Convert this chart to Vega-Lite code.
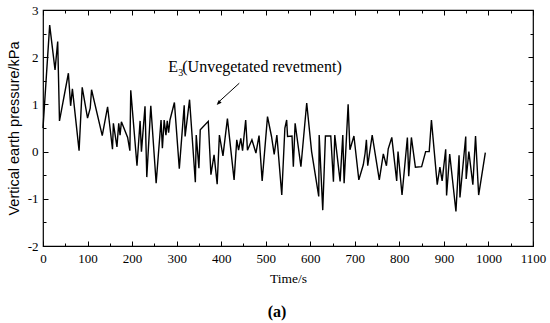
{
  "$schema": "https://vega.github.io/schema/vega-lite/v6.json",
  "width": 490,
  "height": 236,
  "autosize": {"type": "none"},
  "padding": {"left": 43, "top": 10, "right": 17, "bottom": 77},
  "background": "white",
  "config": {
    "view": {"stroke": "black", "strokeWidth": 1.2},
    "axis": {"grid": false, "domain": false, "tickColor": "black", "tickWidth": 1, "labelColor": "black", "titleColor": "black", "labelFont": "Liberation Serif", "labelFontSize": 13, "titleFont": "Liberation Serif", "titleFontSize": 13.5, "titleFontWeight": "normal"}
  },
  "title": {"text": "(a)", "orient": "bottom", "font": "Liberation Serif", "fontSize": 16, "fontWeight": "bold", "color": "black", "offset": 19, "dx": -11},
  "datasets": {
    "series": [
      {"t": 0, "p": 0.5}, {"t": 15, "p": 2.68}, {"t": 27, "p": 1.73}, {"t": 33, "p": 2.33}, {"t": 37, "p": 0.65},
      {"t": 57, "p": 1.66}, {"t": 62, "p": 0.97}, {"t": 66, "p": 1.33}, {"t": 81, "p": 0.02}, {"t": 88, "p": 1.36},
      {"t": 100, "p": 0.71}, {"t": 106, "p": 0.92}, {"t": 109, "p": 1.31}, {"t": 133, "p": 0.34}, {"t": 145, "p": 0.95},
      {"t": 156, "p": 0.05}, {"t": 158, "p": 0.6}, {"t": 166, "p": 0.1}, {"t": 170, "p": 0.6}, {"t": 173, "p": 0.35},
      {"t": 176, "p": 0.63}, {"t": 190, "p": 0.3}, {"t": 195, "p": 0.02}, {"t": 197, "p": 1.3}, {"t": 211, "p": -0.3},
      {"t": 218, "p": 0.65}, {"t": 221, "p": 0.0}, {"t": 229, "p": 0.96}, {"t": 233, "p": -0.54}, {"t": 242, "p": 0.97},
      {"t": 254, "p": -0.67}, {"t": 265, "p": 0.67}, {"t": 268, "p": 0.07}, {"t": 272, "p": 0.67}, {"t": 276, "p": 0.35},
      {"t": 279, "p": 0.65}, {"t": 282, "p": 0.4}, {"t": 285, "p": 0.67}, {"t": 295, "p": 1.04}, {"t": 306, "p": -0.36},
      {"t": 317, "p": 0.98}, {"t": 319, "p": 0.32}, {"t": 329, "p": 1.1}, {"t": 342, "p": -0.65}, {"t": 344, "p": 0.35},
      {"t": 350, "p": -0.35}, {"t": 353, "p": 0.46}, {"t": 371, "p": 0.64}, {"t": 377, "p": -0.49}, {"t": 384, "p": -0.07},
      {"t": 391, "p": -0.69}, {"t": 396, "p": 0.35}, {"t": 404, "p": -0.09}, {"t": 414, "p": 0.7}, {"t": 429, "p": -0.6},
      {"t": 435, "p": 0.25}, {"t": 439, "p": 0.03}, {"t": 444, "p": 0.28}, {"t": 448, "p": 0.02}, {"t": 455, "p": 0.67},
      {"t": 459, "p": 0.03}, {"t": 469, "p": 0.25}, {"t": 478, "p": -0.03}, {"t": 485, "p": 0.34}, {"t": 492, "p": -0.62},
      {"t": 504, "p": 0.74}, {"t": 513, "p": 0.32}, {"t": 519, "p": -0.06}, {"t": 525, "p": 0.35}, {"t": 536, "p": -0.92},
      {"t": 543, "p": 0.5}, {"t": 547, "p": 0.67}, {"t": 549, "p": 0.32}, {"t": 559, "p": 0.33}, {"t": 562, "p": -0.32},
      {"t": 566, "p": 0.6}, {"t": 579, "p": -0.32}, {"t": 592, "p": 1.03}, {"t": 603, "p": 0.0}, {"t": 619, "p": -0.95},
      {"t": 620, "p": 0.35}, {"t": 628, "p": -1.24}, {"t": 634, "p": 0.33}, {"t": 646, "p": 0.33}, {"t": 652, "p": -0.64},
      {"t": 655, "p": 0.35}, {"t": 667, "p": -0.63}, {"t": 673, "p": 0.35}, {"t": 676, "p": -0.67}, {"t": 685, "p": 1.0},
      {"t": 689, "p": 0.04}, {"t": 698, "p": 0.33}, {"t": 709, "p": -0.6}, {"t": 719, "p": -0.28}, {"t": 723, "p": -0.04},
      {"t": 726, "p": 0.25}, {"t": 729, "p": -0.3}, {"t": 739, "p": 0.35}, {"t": 755, "p": -0.6}, {"t": 764, "p": -0.05},
      {"t": 771, "p": -0.3}, {"t": 775, "p": 0.06}, {"t": 783, "p": 0.3}, {"t": 794, "p": -0.62}, {"t": 797, "p": 0.0},
      {"t": 806, "p": -0.92}, {"t": 818, "p": 0.3}, {"t": 821, "p": -0.52}, {"t": 827, "p": 0.3}, {"t": 836, "p": -0.33},
      {"t": 850, "p": -0.32}, {"t": 859, "p": 0.0}, {"t": 867, "p": 0.0}, {"t": 872, "p": 0.67}, {"t": 885, "p": -0.7},
      {"t": 891, "p": -0.33}, {"t": 896, "p": -0.62}, {"t": 904, "p": 0.05}, {"t": 906, "p": -0.93}, {"t": 913, "p": -0.05},
      {"t": 927, "p": -1.27}, {"t": 934, "p": -0.08}, {"t": 936, "p": -0.97}, {"t": 949, "p": 0.32}, {"t": 950, "p": -0.58},
      {"t": 956, "p": 0.0}, {"t": 965, "p": -0.7}, {"t": 971, "p": 0.33}, {"t": 978, "p": -0.92}, {"t": 993, "p": -0.02}
    ],
    "labels": [
      {"t": 281, "p": 1.69, "text": "E", "size": 16},
      {"t": 303.4, "p": 1.6, "text": "3", "size": 10},
      {"t": 312.6, "p": 1.68, "text": "(Unvegetated revetment)", "size": 16}
    ],
    "arrow": [
      {"t": 440.6, "p": 1.449, "t2": 392, "p2": 1.03}
    ],
    "head": [
      {"t": 390, "p": 0.989}
    ]
  },
  "layer": [
    {
      "data": {"name": "series"},
      "mark": {"type": "line", "color": "black", "strokeWidth": 1.4, "interpolate": "linear"},
      "encoding": {
        "x": {"field": "t", "type": "quantitative", "scale": {"domain": [0, 1100], "nice": false, "zero": false},
          "axis": {"orient": "bottom", "values": [0,100,200,300,400,500,600,700,800,900,1000,1100],
            "format": "d", "tickSize": -5,
            "labelFont": "Liberation Serif", "labelFontSize": 13,
            "labelPadding": 11, "labelFlush": false, "labelOverlap": false,
            "title": "Time/s", "titleFont": "Liberation Serif", "titleFontSize": 13.5, "titleFontWeight": "normal", "titlePadding": 6}},
        "y": {"field": "p", "type": "quantitative", "scale": {"domain": [-2, 3], "nice": false, "zero": false},
          "axis": {"orient": "left", "values": [-2,-1,0,1,2,3],
            "labelExpr": "toString(datum.value)", "tickSize": -5,
            "labelFont": "Liberation Serif", "labelFontSize": 13,
            "labelPadding": 10, "labelOverlap": false, "labelFlush": false,
            "title": "Vertical earth pressure/kPa", "titleFont": "Liberation Sans", "titleFontSize": 14.5, "titleFontWeight": "normal", "titlePadding": 6}}
      }
    },
    {
      "data": {"name": "series"},
      "mark": {"type": "line", "opacity": 0},
      "encoding": {
        "x": {"field": "t", "type": "quantitative", "scale": {"domain": [0, 1100], "nice": false, "zero": false},
          "axis": {"orient": "top", "values": [0,100,200,300,400,500,600,700,800,900,1000,1100],
            "labels": false, "title": null, "tickSize": -5}},
        "y": {"field": "p", "type": "quantitative", "scale": {"domain": [-2, 3], "nice": false, "zero": false},
          "axis": {"orient": "right", "values": [-2,-1,0,1,2,3],
            "labels": false, "title": null, "tickSize": -5}}
      }
    },
    {
      "data": {"name": "series"},
      "mark": {"type": "line", "opacity": 0},
      "encoding": {
        "x": {"field": "t", "type": "quantitative", "scale": {"domain": [0, 1100], "nice": false, "zero": false},
          "axis": {"orient": "bottom", "values": [50,150,250,350,450,550,650,750,850,950,1050],
            "labels": false, "title": null, "tickSize": -3}},
        "y": {"field": "p", "type": "quantitative", "scale": {"domain": [-2, 3], "nice": false, "zero": false},
          "axis": {"orient": "left", "values": [-1.5,-0.5,0.5,1.5,2.5],
            "labels": false, "title": null, "tickSize": -3}}
      }
    },
    {
      "data": {"name": "series"},
      "mark": {"type": "line", "opacity": 0},
      "encoding": {
        "x": {"field": "t", "type": "quantitative", "scale": {"domain": [0, 1100], "nice": false, "zero": false},
          "axis": {"orient": "top", "values": [50,150,250,350,450,550,650,750,850,950,1050],
            "labels": false, "title": null, "tickSize": -3}},
        "y": {"field": "p", "type": "quantitative", "scale": {"domain": [-2, 3], "nice": false, "zero": false},
          "axis": {"orient": "right", "values": [-1.5,-0.5,0.5,1.5,2.5],
            "labels": false, "title": null, "tickSize": -3}}
      }
    },
    {
      "data": {"name": "labels"},
      "mark": {"type": "text", "align": "left", "baseline": "alphabetic", "font": "Liberation Serif", "color": "black"},
      "encoding": {
        "x": {"field": "t", "type": "quantitative", "scale": {"domain": [0, 1100], "nice": false, "zero": false}, "axis": null},
        "y": {"field": "p", "type": "quantitative", "scale": {"domain": [-2, 3], "nice": false, "zero": false}, "axis": null},
        "text": {"field": "text"},
        "size": {"field": "size", "type": "quantitative", "scale": null}
      }
    },
    {
      "data": {"name": "arrow"},
      "mark": {"type": "rule", "color": "black", "strokeWidth": 1},
      "encoding": {
        "x": {"field": "t", "type": "quantitative", "scale": {"domain": [0, 1100], "nice": false, "zero": false}, "axis": null},
        "y": {"field": "p", "type": "quantitative", "scale": {"domain": [-2, 3], "nice": false, "zero": false}, "axis": null},
        "x2": {"field": "t2"},
        "y2": {"field": "p2"}
      }
    },
    {
      "data": {"name": "head"},
      "mark": {"type": "point", "shape": "M0,0 L-0.4,1 L0.4,1 Z", "filled": true, "color": "black", "opacity": 1, "size": 100, "angle": 224},
      "encoding": {
        "x": {"field": "t", "type": "quantitative", "scale": {"domain": [0, 1100], "nice": false, "zero": false}, "axis": null},
        "y": {"field": "p", "type": "quantitative", "scale": {"domain": [-2, 3], "nice": false, "zero": false}, "axis": null}
      }
    }
  ],
  "resolve": {"axis": {"x": "independent", "y": "independent"}}
}
